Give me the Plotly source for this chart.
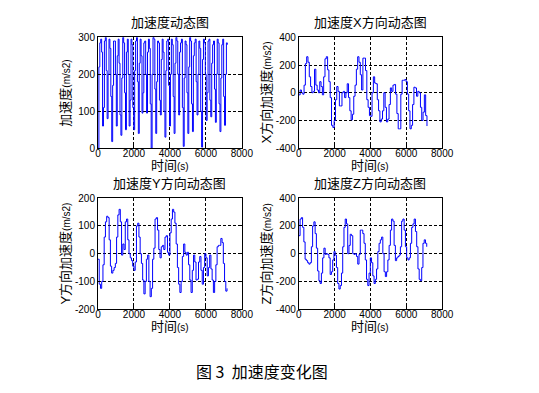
import numpy as np
import plotly.graph_objects as go
from plotly.subplots import make_subplots

# ---- data ----
mag_vals = [0, 220, 285, 295, 260, 60,
            110, 290, 300, 210, 80,
            200, 295, 270, 140, 18,
            170, 290, 290, 200, 60,
            250, 295, 230, 90, 35,
            190, 300, 285, 150, 50,
            260, 295, 200, 60, 130,
            295, 280, 110, 50, 210,
            290, 300, 180, 40, 230,
            295, 250, 95, 150, 285,
            290, 200, 95, 260, 295,
            270, 120, 0, 200, 300,
            295, 160, 40, 180, 290,
            285, 130, 90, 240, 295,
            260, 100, 30, 210, 290,
            295, 170, 60, 200, 295,
            280, 140, 40, 230, 300,
            290, 200, 90, 260, 285,
            295, 110, 5, 190, 290,
            280, 150, 40, 220, 300,
            290, 120, 45, 250, 285,
            295, 180, 90, 200, 290,
            270, 100, 3, 240, 295,
            285, 200, 75, 150, 290,
            295, 130, 85, 230, 280,
            290, 160, 70, 200, 295,
            285, 120, 45, 190, 280,
            295, 140, 62, 200, 285, 280]
mag_dt = 51

x_vals = [-15, 20, 0, -10, 55, 210, 260, 220, 115, 45,
          0, 10, 170, 55, 20, 0, 80, 45, -15, 115,
          245, 260, 165, 80, -35, -235, -250, -200, -50, 45,
          10, -95, -95, 0, 10, -35, 0, 65, -35, -130,
          -195, -155, -25, 55, 170, 260, 220, 130, 20, 250,
          250, 160, -50, -105, -165, -170, 0, 115, 70, 65,
          -50, -130, -210, -190, -130, 0, -105, -210, -190, -85,
          35, 10, 55, 60, -10, -150, -260, -260, -10, 90,
          90, 95, 80, -10, -130, -260, -235, -85, 40, 35,
          -25, 10, 0, -105, -200, -140, -15, -165, -240]
x_dt = 73

y_vals = [-20, -110, -125, -100, -40, 60, 115, 135, 130, 50,
          -45, -70, -60, -50, -35, 60, 140, 160, 115, -5,
          35, 15, 115, 125, 50, 0, -15, -25, -45, -60,
          -30, 100, 110, 60, 0, -35, -95, -145, -100, -20,
          -5, -100, -155, -125, -20, 20, 125, 130, 85, 15,
          -15, 25, 30, 15, 60, 65, 5, -5, 75, 125,
          160, 150, 110, 35, -50, -110, -140, -100, -10, 35,
          5, -5, 5, -40, -95, -140, -60, -5, -30, -95,
          -92, -30, -10, -60, -110, -50, 0, -15, -80, -50,
          -5, -55, -95, -140, -100, -40, 25, 30, 30, 55,
          40, -35, -100, -135, -125]
y_dt = 69

z_vals = [130, 250, 260, 190, 85, -40, -50, -65, -75, -65,
          50, 200, 230, 145, 40, -125, -195, -215, -140, -30,
          40, -5, 0, -5, -30, -150, -130, -45, 15, -10,
          -100, -215, -255, -230, -140, 50, 190, 250, 215, 0,
          60, 140, 130, 0, -5, 0, -20, -75, -5, 170,
          170, 145, 75, -45, -185, -230, -140, -30, -65, -160,
          -215, -185, -110, 15, 75, 100, 120, 0, -130, -165,
          -130, -45, 60, 170, 250, 235, 60, -50, -30, -20,
          -10, 50, 235, 250, 170, 50, -30, -45, -30, 75,
          190, 215, 250, 160, 50, -110, -185, -195, -100, 75,
          100, 75, 50]
z_dt = 70

titles = ["加速度动态图", "加速度X方向动态图", "加速度Y方向动态图", "加速度Z方向动态图"]
ylabels = ["加速度", "X方向加速度", "Y方向加速度", "Z方向加速度"]
xlabel = "时间"
caption = "图\u00a03\u00a0\u00a0加速度变化图"
x_ticks = [0, 2000, 4000, 6000, 8000]
y_ticks_list = [[0, 100, 200, 300], [-400, -200, 0, 200, 400],
                [-200, -100, 0, 100, 200], [-400, -200, 0, 200, 400]]
y_ranges = [[0, 300], [-400, 400], [-200, 200], [-400, 400]]

W, H = 539, 393
series = [(mag_vals, mag_dt), (x_vals, x_dt), (y_vals, y_dt), (z_vals, z_dt)]

fig = make_subplots(rows=2, cols=2)
pos = [(1, 1), (1, 2), (2, 1), (2, 2)]
for (vals, dt), (r, c) in zip(series, pos):
    t = np.arange(len(vals)) * dt
    fig.add_trace(go.Scatter(x=t, y=vals, mode="lines", line_shape="hv",
                             line=dict(color="#0000ff", width=1), showlegend=False),
                  row=r, col=c)

# pixel boxes (left, right, top, bottom)
boxes = [(97.7, 245.7, 32.3, 146.7), (304.3, 451.7, 32.3, 146.7),
         (97.7, 245.7, 198.3, 312.7), (304.3, 451.7, 198.3, 312.7)]

font_fam = "Liberation Sans, Noto Sans CJK SC"
ann = []
for i, (l, rgt, top, bot) in enumerate(boxes):
    sfx = "" if i == 0 else str(i + 1)
    common = dict(showline=True, linecolor="black", linewidth=1, mirror="ticks",
                  ticks="inside", ticklen=3, tickcolor="black",
                  showgrid=True, gridcolor="black", gridwidth=1, griddash="3px,2px",
                  zeroline=False, tickfont=dict(family=font_fam, size=10, color="black"))
    fig.layout["xaxis" + sfx].update(domain=[l / W, rgt / W], range=[0, 8000],
                                     tickvals=x_ticks, ticktext=[str(v) for v in x_ticks],
                                     ticklabelstandoff=-4, **common)
    fig.layout["yaxis" + sfx].update(domain=[1 - bot / H, 1 - top / H], range=y_ranges[i],
                                     tickvals=y_ticks_list[i], ticktext=[str(v) for v in y_ticks_list[i]], **common)
    cx = (l + rgt) / 2
    cy = (top + bot) / 2
    ann.append(dict(text=titles[i], x=cx / W, y=1 - (top - 15) / H, xref="paper", yref="paper",
                    showarrow=False, font=dict(family=font_fam, size=13, color="black"),
                    xanchor="center", yanchor="middle"))
    ann.append(dict(text=xlabel + "<span style='font-size:10px'>(s)</span>",
                    x=cx / W, y=1 - (bot + 18) / H, xref="paper", yref="paper",
                    showarrow=False, font=dict(family=font_fam, size=13, color="black"),
                    xanchor="center", yanchor="middle"))
    ann.append(dict(text=ylabels[i] + "<span style='font-size:10px'>(m/s2)</span>",
                    x=(l - 33) / W, y=1 - cy / H, xref="paper", yref="paper",
                    showarrow=False, textangle=-90,
                    font=dict(family=font_fam, size=13, color="black"),
                    xanchor="center", yanchor="middle"))

ann.append(dict(text=caption, x=266 / W, y=1 - 377 / H, xref="paper", yref="paper",
                showarrow=False, font=dict(family="Noto Sans CJK SC", size=16, color="black"),
                xanchor="center", yanchor="middle"))

fig.update_layout(width=W, height=H, margin=dict(l=0, r=0, t=0, b=0),
                  paper_bgcolor="white", plot_bgcolor="white",
                  annotations=ann, font=dict(family=font_fam, color="black"))

fig.write_html("out.html", config={"displayModeBar": False},
               post_script="document.body.style.margin='0';document.body.style.padding='0';document.body.style.overflow='hidden';")
